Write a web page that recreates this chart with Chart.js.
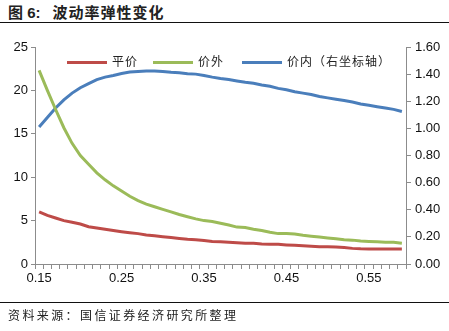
<!DOCTYPE html>
<html lang="zh">
<head>
    <meta charset="UTF-8">
    <title>波动率弹性变化</title>
    <script src="https://cdn.jsdelivr.net/npm/chart.js"></script>
    <style>
        body { margin: 0; background: #fff; }
        #wrap { position: relative; width: 449px; height: 331px; overflow: hidden; }
        #chart { position: absolute; left: 0; top: 0; }
        .titulo { position: absolute; left: 8px; top: 1px; font: bold 15px "Liberation Sans", "Noto Sans CJK SC", sans-serif; color: #222; }
        .titulo span { font-family: "Noto Sans CJK SC", sans-serif; font-weight: bold; margin-left: 12px; letter-spacing: 1px; }
        .linha { position: absolute; left: 0; width: 449px; height: 0; border-top: 1.5px solid #111; }
        .fonte { position: absolute; left: 8px; top: 306px; font: 12px "Noto Sans CJK SC", sans-serif; color: #222; letter-spacing: 2.4px; }
        .leg { position: absolute; top: 52px; font: 12px "Noto Sans CJK SC", sans-serif; color: #222; letter-spacing: 1px; line-height: 18px; white-space: nowrap; }
        .leg i { display: inline-block; width: 40px; height: 3px; vertical-align: middle; margin-right: 5px; }
    </style>
</head>
<body>
    <div id="wrap">
        <div class="titulo">图 6:<span>波动率弹性变化</span></div>
        <div class="linha" style="top: 22px;"></div>
        <canvas id="chart" width="449" height="331"></canvas>
        <div class="linha" style="top: 302px;"></div>
        <div class="fonte">资料来源：国信证券经济研究所整理</div>
    </div>

    <script>
    // categorias do eixo x (0.15 a 0.59)
    const categorias = ['0.15','0.16','0.17','0.18','0.19','0.20','0.21','0.22','0.23','0.24',
                        '0.25','0.26','0.27','0.28','0.29','0.30','0.31','0.32','0.33','0.34',
                        '0.35','0.36','0.37','0.38','0.39','0.40','0.41','0.42','0.43','0.44',
                        '0.45','0.46','0.47','0.48','0.49','0.50','0.51','0.52','0.53','0.54',
                        '0.55','0.56','0.57','0.58','0.59'];

    // 平价 (eixo esquerdo)
    const pingjia = [6.0, 5.6, 5.3, 5.0, 4.8, 4.6, 4.3, 4.15, 4.0, 3.85,
                     3.72, 3.6, 3.5, 3.35, 3.25, 3.15, 3.05, 2.95, 2.85, 2.8,
                     2.7, 2.6, 2.57, 2.5, 2.45, 2.4, 2.38, 2.3, 2.28, 2.27,
                     2.2, 2.15, 2.1, 2.05, 2.0, 1.98, 1.95, 1.9, 1.8, 1.75,
                     1.73, 1.73, 1.73, 1.73, 1.72];

    // 价外 (eixo esquerdo)
    const jiawai = [22.3, 20.0, 17.8, 15.7, 13.9, 12.5, 11.5, 10.5, 9.7, 9.0,
                    8.4, 7.8, 7.3, 6.9, 6.6, 6.3, 6.0, 5.7, 5.45, 5.2,
                    5.0, 4.9, 4.7, 4.5, 4.25, 4.2, 4.0, 3.85, 3.65, 3.5,
                    3.5, 3.45, 3.3, 3.2, 3.1, 3.0, 2.9, 2.8, 2.75, 2.65,
                    2.6, 2.55, 2.5, 2.5, 2.4];

    // 价内 (eixo direito)
    const jianei = [1.01, 1.08, 1.15, 1.21, 1.26, 1.30, 1.33, 1.36, 1.378, 1.39,
                    1.405, 1.415, 1.42, 1.423, 1.423, 1.42, 1.413, 1.41, 1.402, 1.40,
                    1.39, 1.378, 1.368, 1.36, 1.35, 1.34, 1.332, 1.32, 1.31, 1.295,
                    1.285, 1.27, 1.26, 1.25, 1.235, 1.225, 1.215, 1.205, 1.195, 1.18,
                    1.17, 1.16, 1.15, 1.14, 1.125];

    const nomes = ['平价', '价外', '价内（右坐标轴）'];
    const cores = ['#BE4B48', '#9BBB59', '#4A7EBB'];

    const fonteEixo = { family: '"Liberation Sans", Arial, sans-serif', size: 13 };
    const corEixo = '#8c8c8c';

    // legenda em HTML, dentro da área do gráfico
    const posLegenda = [67, 153, 242];
    nomes.forEach((nome, i) => {
        const d = document.createElement('div');
        d.className = 'leg';
        d.style.left = posLegenda[i] + 'px';
        d.innerHTML = '<i style="background:' + cores[i] + '"></i>' + nome;
        document.getElementById('wrap').appendChild(d);
    });

    new Chart(document.getElementById('chart').getContext('2d'), {
        type: 'line',
        data: {
            labels: categorias,
            datasets: [
                { label: nomes[0], data: pingjia, yAxisID: 'y', borderColor: cores[0], borderWidth: 3, pointRadius: 0, tension: 0 },
                { label: nomes[1], data: jiawai, yAxisID: 'y', borderColor: cores[1], borderWidth: 3, pointRadius: 0, tension: 0 },
                { label: nomes[2], data: jianei, yAxisID: 'y1', borderColor: cores[2], borderWidth: 3, pointRadius: 0, tension: 0 }
            ]
        },
        options: {
            responsive: false,
            animation: false,
            layout: { padding: { top: 47, left: 0, right: 0, bottom: 0 } },
            plugins: {
                legend: { display: false },
                tooltip: { enabled: false }
            },
            scales: {
                x: {
                    offset: true,
                    grid: { offset: true, drawOnChartArea: false, tickLength: 5, color: corEixo },
                    border: { color: corEixo },
                    ticks: {
                        autoSkip: false,
                        maxRotation: 0,
                        color: '#111',
                        font: fonteEixo,
                        padding: 2,
                        callback: (v, i) => i % 10 === 0 ? categorias[i] : ''
                    },
                    afterFit: s => { s.height = 67; }
                },
                y: {
                    position: 'left',
                    min: 0, max: 25,
                    ticks: { stepSize: 5, color: '#111', font: fonteEixo, padding: 3 },
                    grid: { drawOnChartArea: false, tickLength: 4, color: corEixo },
                    border: { color: corEixo },
                    afterFit: s => { s.width = 35; }
                },
                y1: {
                    position: 'right',
                    min: 0, max: 1.6,
                    ticks: { stepSize: 0.2, color: '#111', font: fonteEixo, padding: 4, callback: v => v.toFixed(2) },
                    grid: { drawOnChartArea: false, tickLength: 5, color: corEixo },
                    border: { color: corEixo },
                    afterFit: s => { s.width = 43; }
                }
            }
        }
    });
    </script>
</body>
</html>
